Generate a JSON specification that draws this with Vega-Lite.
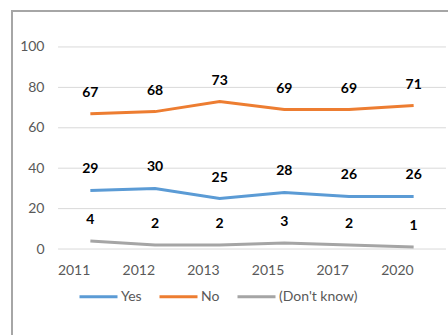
{
  "$schema": "https://vega.github.io/schema/vega-lite/v6.json",
  "width": 480,
  "height": 334,
  "autosize": {"type": "none"},
  "padding": {"left": 12, "top": 11, "right": 0, "bottom": 0},
  "background": "white",
  "config": {
    "view": {"stroke": "#A6A6A6", "strokeWidth": 2},
    "font": "Lato"
  },
  "datasets": {
    "grid": [{"g": 0}, {"g": 20}, {"g": 40}, {"g": 60}, {"g": 80}, {"g": 100}]
  },
  "data": {
    "values": [
      {"year": "2011", "series": "Yes", "value": 29},
      {"year": "2012", "series": "Yes", "value": 30},
      {"year": "2013", "series": "Yes", "value": 25},
      {"year": "2015", "series": "Yes", "value": 28},
      {"year": "2017", "series": "Yes", "value": 26},
      {"year": "2020", "series": "Yes", "value": 26},
      {"year": "2011", "series": "No", "value": 67},
      {"year": "2012", "series": "No", "value": 68},
      {"year": "2013", "series": "No", "value": 73},
      {"year": "2015", "series": "No", "value": 69},
      {"year": "2017", "series": "No", "value": 69},
      {"year": "2020", "series": "No", "value": 71},
      {"year": "2011", "series": "(Don't know)", "value": 4},
      {"year": "2012", "series": "(Don't know)", "value": 2},
      {"year": "2013", "series": "(Don't know)", "value": 2},
      {"year": "2015", "series": "(Don't know)", "value": 3},
      {"year": "2017", "series": "(Don't know)", "value": 2},
      {"year": "2020", "series": "(Don't know)", "value": 1}
    ]
  },
  "layer": [
    {
      "data": {"name": "grid"},
      "mark": {"type": "rule", "color": "#D9D9D9", "strokeWidth": 1},
      "encoding": {
        "y": {"field": "g", "type": "quantitative"},
        "x": {"datum": "2011", "bandPosition": 0},
        "x2": {"datum": "2020", "bandPosition": 1}
      }
    },
    {
      "mark": {"type": "line", "strokeWidth": 3},
      "encoding": {
        "x": {
          "field": "year",
          "type": "ordinal",
          "bandPosition": 0.5,
          "scale": {
            "type": "band",
            "domain": ["2011", "2012", "2013", "2015", "2017", "2020"],
            "paddingInner": 0,
            "paddingOuter": 0.712
          },
          "axis": {
            "title": null,
            "offset": -96,
            "domain": false,
            "ticks": false,
            "grid": false,
            "labelPadding": 21,
            "labelAngle": 0,
            "labelColor": "#595959",
            "labelFontSize": 14
          }
        },
        "y": {
          "field": "value",
          "type": "quantitative",
          "scale": {"domain": [-47.5, 117.8], "nice": false, "zero": false},
          "axis": {
            "title": null,
            "values": [0, 20, 40, 60, 80, 100],
            "offset": -46,
            "domain": false,
            "ticks": false,
            "grid": false,
            "labelPadding": 14,
            "labelColor": "#595959",
            "labelFontSize": 14
          }
        },
        "color": {
          "field": "series",
          "type": "nominal",
          "scale": {
            "domain": ["Yes", "No", "(Don't know)"],
            "range": ["#5B9BD5", "#ED7D31", "#A5A5A5"]
          },
          "legend": {
            "title": null,
            "orient": "none",
            "direction": "horizontal",
            "legendX": 66,
            "legendY": 265,
            "symbolType": "stroke",
            "symbolSize": 1444,
            "symbolStrokeWidth": 3,
            "labelOffset": 2,
            "columnPadding": 11,
            "labelFontSize": 14,
            "labelColor": "#595959"
          }
        }
      }
    },
    {
      "mark": {"type": "text", "dy": -21, "fontWeight": "bold", "fontSize": 14, "color": "#000000"},
      "encoding": {
        "x": {"field": "year", "type": "ordinal", "bandPosition": 0.5},
        "y": {"field": "value", "type": "quantitative"},
        "text": {"field": "value", "type": "quantitative"}
      }
    }
  ]
}
